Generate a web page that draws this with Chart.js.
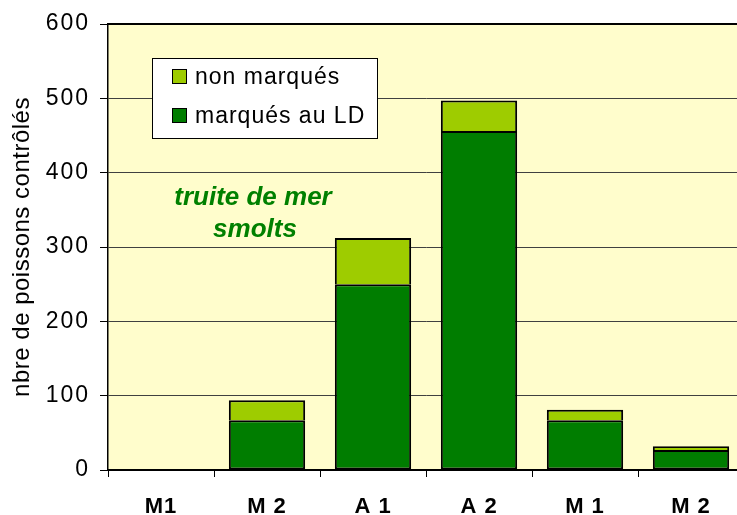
<!DOCTYPE html>
<html>
<head>
<meta charset="utf-8">
<script src="https://cdn.jsdelivr.net/npm/chart.js@4/dist/chart.umd.min.js"></script>
<style>
  html, body { margin:0; padding:0; background:#fff; overflow:hidden; }
  #wrap { width:737px; height:515px; overflow:hidden; position:relative; }
  canvas { display:block; }
</style>
</head>
<body>
<div id="wrap"><canvas id="c" width="750" height="515"></canvas></div>
<script>
const categories = ["M1", "M 2", "A 1", "A 2", "M 1", "M 2"];
const marquesLD = [0, 67, 250, 456, 67, 27];
const nonMarques = [0, 27, 62, 41, 14, 5];
const yTicks = [0, 100, 200, 300, 400, 500, 600];
const yTitle = "nbre de poissons contrôlés";
const annotationLines = ["truite de mer", "smolts"];
const FONT = "'Liberation Sans', Arial, sans-serif";

const darkGreen = "#007D00";
const lightGreen = "#9ECC00";

function withSpacing(scale, method, spacing) {
  const key = "_patched_" + method;
  if (scale[key]) return;
  const orig = scale[method].bind(scale);
  scale[method] = function (...args) {
    const ctx = scale.ctx;
    ctx.save();
    try { ctx.letterSpacing = spacing; } catch (e) {}
    orig(...args);
    ctx.restore();
  };
  scale[key] = true;
}

const bgPlugin = {
  id: "bg",
  beforeDraw(chart) {
    withSpacing(chart.scales.y, "drawLabels", "2px");
    withSpacing(chart.scales.y, "drawTitle", "0.5px");
    withSpacing(chart.scales.x, "drawLabels", "1px");
    const { ctx, chartArea: a } = chart;
    ctx.save();
    ctx.fillStyle = "#FFFDCC";
    ctx.fillRect(a.left, a.top, a.right - a.left, a.bottom - a.top);
    ctx.restore();
  },
  afterDraw(chart) {
    const { ctx, chartArea: a } = chart;
    ctx.save();
    ctx.strokeStyle = "#000";
    ctx.lineWidth = 2;
    ctx.beginPath();
    ctx.moveTo(a.left, a.top);
    ctx.lineTo(a.right, a.top);
    ctx.stroke();
    // legend box
    const lx = 152, ly = 58, lw = 225, lh = 80;
    ctx.fillStyle = "#fff";
    ctx.fillRect(lx, ly, lw, lh);
    ctx.lineWidth = 1;
    ctx.strokeStyle = "#000";
    ctx.strokeRect(lx + 0.5, ly + 0.5, lw, lh);
    const items = [
      { label: chart.data.datasets[1].label, color: chart.data.datasets[1].backgroundColor, y: 77 },
      { label: chart.data.datasets[0].label, color: chart.data.datasets[0].backgroundColor, y: 116 }
    ];
    ctx.font = "23px " + FONT;
    ctx.textBaseline = "middle";
    ctx.textAlign = "left";
    try { ctx.letterSpacing = "1px"; } catch (e) {}
    items.forEach(it => {
      ctx.fillStyle = it.color;
      ctx.fillRect(172.5, it.y - 7.5, 14, 14);
      ctx.strokeStyle = "#000";
      ctx.lineWidth = 1;
      ctx.strokeRect(172.5, it.y - 7.5, 14, 14);
      ctx.fillStyle = "#000";
      ctx.fillText(it.label, 195, it.y + 1);
    });
    try { ctx.letterSpacing = "0px"; } catch (e) {}
    // annotation
    ctx.fillStyle = "#008000";
    ctx.font = "italic bold 26px " + FONT;
    ctx.textAlign = "center";
    ctx.fillText(annotationLines[0], 253, 198);
    ctx.fillText(annotationLines[1], 255, 230);
    ctx.restore();
  }
};

new Chart(document.getElementById("c"), {
  type: "bar",
  data: {
    labels: categories,
    datasets: [
      { label: "marqués au LD", data: marquesLD, backgroundColor: darkGreen, borderColor: "#000", borderWidth: 2, borderSkipped: false },
      { label: "non marqués", data: nonMarques, backgroundColor: lightGreen, borderColor: "#000", borderWidth: 2, borderSkipped: "start" }
    ]
  },
  options: {
    responsive: false,
    animation: false,
    layout: { padding: { top: 24, right: 6, left: 0, bottom: 0 } },
    plugins: { legend: { display: false }, tooltip: { enabled: false } },
    datasets: { bar: { categoryPercentage: 1, barPercentage: 0.72 } },
    scales: {
      x: {
        stacked: true,
        afterFit(s) { s.height = 45; },
        grid: { offset: true, drawOnChartArea: false, drawTicks: true, tickLength: 7, color: "#000", tickColor: "#000" },
        border: { display: true, color: "#000", width: 2 },
        ticks: { color: "#000", font: { family: FONT, size: 22, weight: "bold" }, padding: 17 }
      },
      y: {
        stacked: true,
        min: 0, max: 600,
        afterFit(s) { s.width = 108; },
        afterBuildTicks(s) { s.ticks = yTicks.map(v => ({ value: v })); },
        grid: { color: "#404040", lineWidth: 1, tickLength: 8, tickColor: "#000" },
        border: { display: true, color: "#000", width: 1.5 },
        ticks: { color: "#000", font: { family: FONT, size: 23 }, padding: 10 },
        title: { display: true, text: yTitle, color: "#000", font: { family: FONT, size: 24 }, padding: { top: 8, bottom: 0 } }
      }
    }
  },
  plugins: [bgPlugin]
});
</script>
</body>
</html>
